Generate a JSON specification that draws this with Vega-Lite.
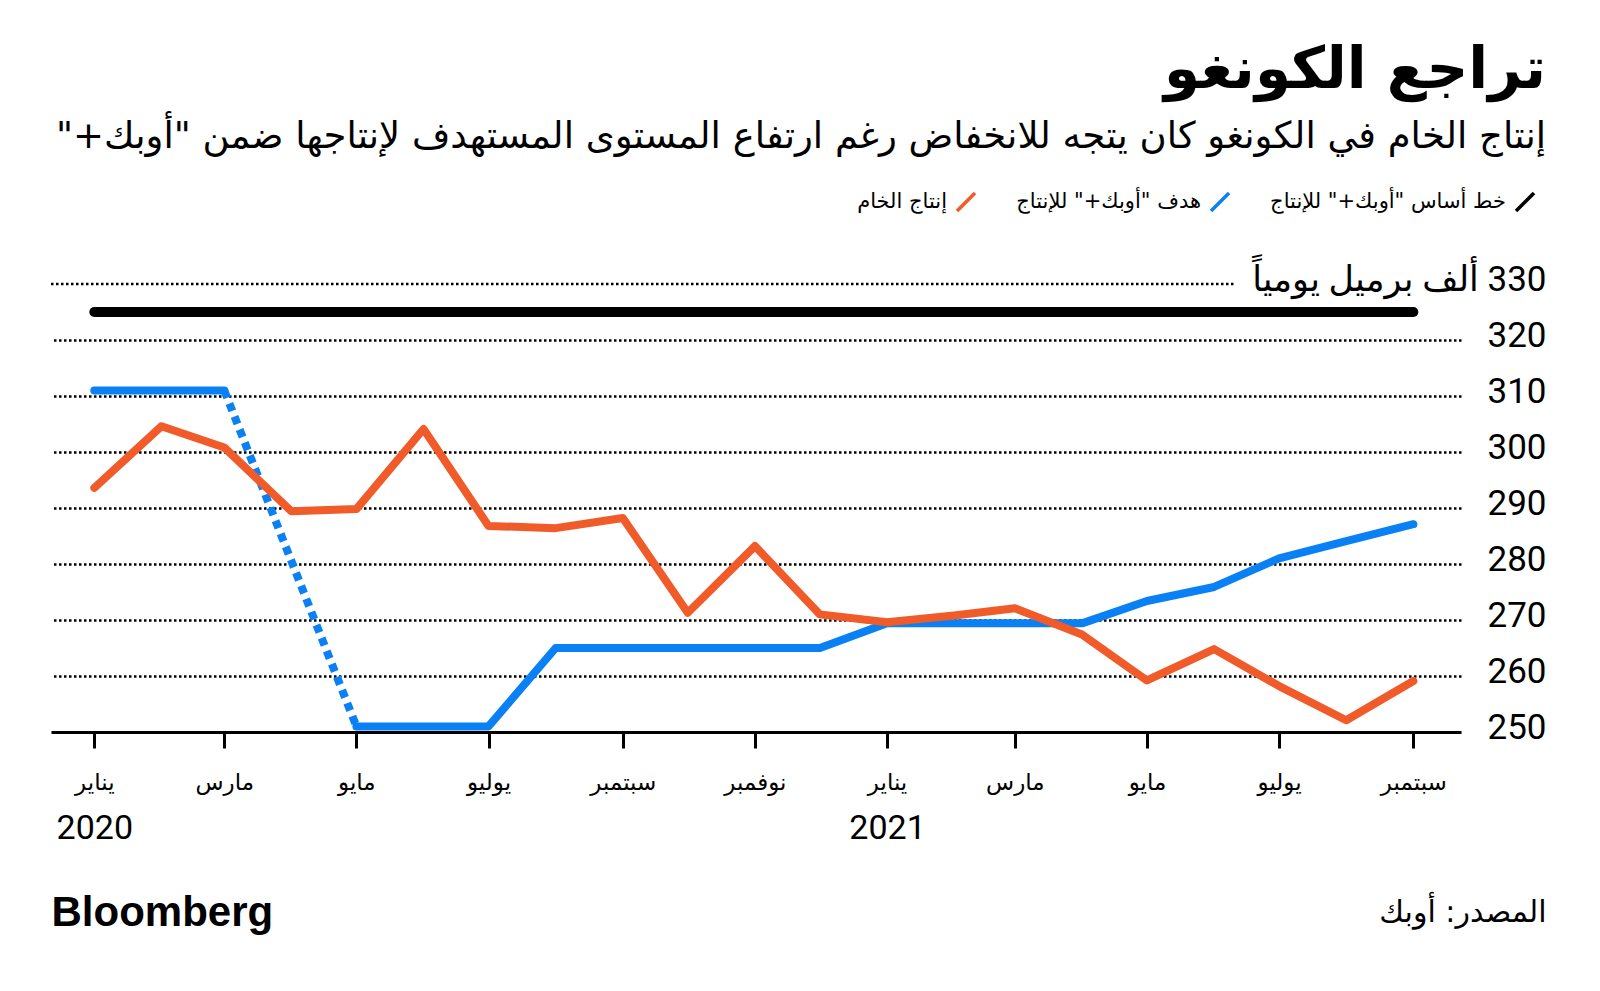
{
  "$schema": "https://vega.github.io/schema/vega-lite/v6.json",
  "width": 1410,
  "height": 448,
  "autosize": "none",
  "padding": {"left": 51, "top": 284, "right": 139, "bottom": 259},
  "background": "white",
  "config": {"view": {"stroke": null}},
  "title": {
    "text": "تراجع الكونغو",
    "subtitle": "إنتاج الخام في الكونغو كان يتجه للانخفاض رغم ارتفاع المستوى المستهدف لإنتاجها ضمن \"أوبك+\"‏",
    "anchor": "end",
    "frame": "bounds",
    "orient": "top",
    "font": "DejaVu Sans",
    "fontSize": 58,
    "fontWeight": "bold",
    "color": "black",
    "subtitleFont": "DejaVu Sans",
    "subtitleFontSize": 37,
    "subtitleColor": "black",
    "subtitlePadding": 19,
    "offset": 36
  },
  "data": {
    "values": [
      {"date": "2020-01-01T00:00", "series": "خط أساس \"أوبك+\" للإنتاج", "seg": "a", "value": 325},
      {"date": "2021-09-01T00:00", "series": "خط أساس \"أوبك+\" للإنتاج", "seg": "a", "value": 325},

      {"date": "2020-01-01T00:00", "series": "هدف \"أوبك+\" للإنتاج", "seg": "a", "value": 311},
      {"date": "2020-02-01T00:00", "series": "هدف \"أوبك+\" للإنتاج", "seg": "a", "value": 311},
      {"date": "2020-03-01T00:00", "series": "هدف \"أوبك+\" للإنتاج", "seg": "a", "value": 311},
      {"date": "2020-03-01T00:00", "series": "هدف \"أوبك+\" للإنتاج", "seg": "b", "value": 311},
      {"date": "2020-05-01T00:00", "series": "هدف \"أوبك+\" للإنتاج", "seg": "b", "value": 251},
      {"date": "2020-05-01T00:00", "series": "هدف \"أوبك+\" للإنتاج", "seg": "c", "value": 251},
      {"date": "2020-06-01T00:00", "series": "هدف \"أوبك+\" للإنتاج", "seg": "c", "value": 251},
      {"date": "2020-07-01T00:00", "series": "هدف \"أوبك+\" للإنتاج", "seg": "c", "value": 251},
      {"date": "2020-08-01T00:00", "series": "هدف \"أوبك+\" للإنتاج", "seg": "c", "value": 265},
      {"date": "2020-09-01T00:00", "series": "هدف \"أوبك+\" للإنتاج", "seg": "c", "value": 265},
      {"date": "2020-10-01T00:00", "series": "هدف \"أوبك+\" للإنتاج", "seg": "c", "value": 265},
      {"date": "2020-11-01T00:00", "series": "هدف \"أوبك+\" للإنتاج", "seg": "c", "value": 265},
      {"date": "2020-12-01T00:00", "series": "هدف \"أوبك+\" للإنتاج", "seg": "c", "value": 265},
      {"date": "2021-01-01T00:00", "series": "هدف \"أوبك+\" للإنتاج", "seg": "c", "value": 269.4},
      {"date": "2021-02-01T00:00", "series": "هدف \"أوبك+\" للإنتاج", "seg": "c", "value": 269.4},
      {"date": "2021-03-01T00:00", "series": "هدف \"أوبك+\" للإنتاج", "seg": "c", "value": 269.4},
      {"date": "2021-04-01T00:00", "series": "هدف \"أوبك+\" للإنتاج", "seg": "c", "value": 269.4},
      {"date": "2021-05-01T00:00", "series": "هدف \"أوبك+\" للإنتاج", "seg": "c", "value": 273.4},
      {"date": "2021-06-01T00:00", "series": "هدف \"أوبك+\" للإنتاج", "seg": "c", "value": 275.9},
      {"date": "2021-07-01T00:00", "series": "هدف \"أوبك+\" للإنتاج", "seg": "c", "value": 281.0},
      {"date": "2021-08-01T00:00", "series": "هدف \"أوبك+\" للإنتاج", "seg": "c", "value": 284.1},
      {"date": "2021-09-01T00:00", "series": "هدف \"أوبك+\" للإنتاج", "seg": "c", "value": 287.1},

      {"date": "2020-01-01T00:00", "series": "إنتاج الخام", "seg": "a", "value": 293.6},
      {"date": "2020-02-01T00:00", "series": "إنتاج الخام", "seg": "a", "value": 304.6},
      {"date": "2020-03-01T00:00", "series": "إنتاج الخام", "seg": "a", "value": 300.8},
      {"date": "2020-04-01T00:00", "series": "إنتاج الخام", "seg": "a", "value": 289.4},
      {"date": "2020-05-01T00:00", "series": "إنتاج الخام", "seg": "a", "value": 289.8},
      {"date": "2020-06-01T00:00", "series": "إنتاج الخام", "seg": "a", "value": 304.1},
      {"date": "2020-07-01T00:00", "series": "إنتاج الخام", "seg": "a", "value": 286.8},
      {"date": "2020-08-01T00:00", "series": "إنتاج الخام", "seg": "a", "value": 286.4},
      {"date": "2020-09-01T00:00", "series": "إنتاج الخام", "seg": "a", "value": 288.2},
      {"date": "2020-10-01T00:00", "series": "إنتاج الخام", "seg": "a", "value": 271.3},
      {"date": "2020-11-01T00:00", "series": "إنتاج الخام", "seg": "a", "value": 283.2},
      {"date": "2020-12-01T00:00", "series": "إنتاج الخام", "seg": "a", "value": 271.0},
      {"date": "2021-01-01T00:00", "series": "إنتاج الخام", "seg": "a", "value": 269.6},
      {"date": "2021-02-01T00:00", "series": "إنتاج الخام", "seg": "a", "value": 270.8},
      {"date": "2021-03-01T00:00", "series": "إنتاج الخام", "seg": "a", "value": 272.1},
      {"date": "2021-04-01T00:00", "series": "إنتاج الخام", "seg": "a", "value": 267.4},
      {"date": "2021-05-01T00:00", "series": "إنتاج الخام", "seg": "a", "value": 259.2},
      {"date": "2021-06-01T00:00", "series": "إنتاج الخام", "seg": "a", "value": 264.8},
      {"date": "2021-07-01T00:00", "series": "إنتاج الخام", "seg": "a", "value": 258.2},
      {"date": "2021-08-01T00:00", "series": "إنتاج الخام", "seg": "a", "value": 252.1},
      {"date": "2021-09-01T00:00", "series": "إنتاج الخام", "seg": "a", "value": 259.1}
    ]
  },
  "encoding": {
    "y": {
      "field": "value",
      "type": "quantitative",
      "scale": {"domain": [250, 330], "nice": false, "zero": false},
      "axis": {
        "orient": "right",
        "values": [250, 260, 270, 280, 290, 300, 310, 320, 330],
        "domain": false,
        "ticks": false,
        "grid": true,
        "gridColor": "black",
        "gridWidth": 2.5,
        "gridDash": [2.5, 2.5],
        "gridOpacity": {"condition": {"test": "datum.value == 250 || datum.value == 330", "value": 0}, "value": 1},
        "labelAlign": "right",
        "labelBaseline": "middle",
        "labelPadding": 85,
        "labelOffset": -5,
        "labelLimit": 500,
        "labelFont": "Roboto, DejaVu Sans",
        "labelFontSize": 35,
        "labelColor": "black",
        "labelExpr": "datum.value == 330 ? 'ألف برميل يومياً‎ 330' : datum.label",
        "title": null
      }
    },
    "color": {
      "field": "series",
      "type": "nominal",
      "scale": {
        "domain": ["إنتاج الخام", "هدف \"أوبك+\" للإنتاج", "خط أساس \"أوبك+\" للإنتاج"],
        "range": ["#f15a29", "#0a80f5", "#000000"]
      },
      "legend": {
        "orient": "none",
        "direction": "horizontal",
        "legendX": 904,
        "legendY": -93,
        "title": null,
        "symbolType": "M-1,1L1,-1",
        "symbolSize": 324,
        "symbolStrokeWidth": 3.5,
        "labelFont": "DejaVu Sans",
        "labelFontSize": 21,
        "labelColor": "black",
        "labelAlign": "right",
        "labelOffset": -30,
        "labelLimit": 500,
        "columnPadding": 34
      }
    }
  },
  "layer": [
    {
      "data": {"values": [{"value": 330}]},
      "mark": {"type": "rule", "color": "black", "strokeWidth": 2.5, "strokeDash": [2.5, 2.5]},
      "encoding": {
        "x": {"datum": {"year": 2019, "month": 12, "date": 12}, "type": "temporal", "axis": null,
              "scale": {"domain": [{"year": 2019, "month": 12, "date": 12}, {"year": 2021, "month": 9, "date": 23}]}},
        "x2": {"datum": {"year": 2021, "month": 6, "date": 11}},
        "color": {"value": "black"}
      }
    },
    {
      "transform": [{"filter": {"field": "series", "equal": "خط أساس \"أوبك+\" للإنتاج"}}],
      "mark": {"type": "line", "strokeWidth": 10, "strokeCap": "round"},
      "encoding": {
        "x": {
          "field": "date", "type": "temporal",
          "scale": {"domain": [{"year": 2019, "month": 12, "date": 12}, {"year": 2021, "month": 9, "date": 23}]},
          "axis": {
            "orient": "bottom",
            "values": [{"year": 2020, "month": 1, "date": 1}, {"year": 2021, "month": 1, "date": 1}],
            "labelExpr": "timeFormat(datum.value, '%Y')",
            "labelFont": "Roboto",
            "labelFontSize": 34,
            "labelColor": "black",
            "labelBaseline": "middle",
            "labelPadding": 96,
            "labelFlush": false,
            "labelOverlap": false,
            "ticks": false,
            "domain": false,
            "grid": false,
            "title": "Bloomberg",
            "titleX": 0,
            "titleY": 180,
            "titleAlign": "left",
            "titleAnchor": null,
            "titleBaseline": "middle",
            "titleFont": "Liberation Sans",
            "titleFontSize": 42,
            "titleFontWeight": "bold",
            "titleColor": "black"
          }
        }
      }
    },
    {
      "transform": [
        {"filter": {"field": "series", "equal": "هدف \"أوبك+\" للإنتاج"}},
        {"filter": {"field": "seg", "oneOf": ["a", "c"]}}
      ],
      "mark": {"type": "line", "strokeWidth": 8, "strokeCap": "round", "strokeJoin": "round"},
      "encoding": {
        "x": {
          "field": "date", "type": "temporal",
          "scale": {"domain": [{"year": 2019, "month": 12, "date": 12}, {"year": 2021, "month": 9, "date": 23}]},
          "axis": {
            "orient": "bottom",
            "values": [
              {"year": 2020, "month": 1, "date": 1}, {"year": 2020, "month": 3, "date": 1},
              {"year": 2020, "month": 5, "date": 1}, {"year": 2020, "month": 7, "date": 1},
              {"year": 2020, "month": 9, "date": 1}, {"year": 2020, "month": 11, "date": 1},
              {"year": 2021, "month": 1, "date": 1}, {"year": 2021, "month": 3, "date": 1},
              {"year": 2021, "month": 5, "date": 1}, {"year": 2021, "month": 7, "date": 1},
              {"year": 2021, "month": 9, "date": 1}
            ],
            "labelExpr": "['يناير','فبراير','مارس','أبريل','مايو','يونيو','يوليو','أغسطس','سبتمبر','أكتوبر','نوفمبر','ديسمبر'][month(datum.value)]",
            "labelFont": "DejaVu Sans",
            "labelFontSize": 23,
            "labelColor": "black",
            "labelBaseline": "middle",
            "labelPadding": 34,
            "labelFlush": false,
            "labelOverlap": false,
            "domainColor": "black",
            "domainWidth": 3,
            "tickColor": "black",
            "tickWidth": 3,
            "tickSize": 16,
            "grid": false,
            "title": "المصدر: أوبك",
            "titleX": 1495,
            "titleY": 180,
            "titleAlign": "right",
            "titleAnchor": null,
            "titleBaseline": "middle",
            "titleFont": "DejaVu Sans",
            "titleFontSize": 30,
            "titleFontWeight": "normal",
            "titleColor": "black"
          }
        },
        "detail": {"field": "seg"}
      }
    },
    {
      "transform": [
        {"filter": {"field": "series", "equal": "هدف \"أوبك+\" للإنتاج"}},
        {"filter": {"field": "seg", "equal": "b"}}
      ],
      "mark": {"type": "line", "strokeWidth": 8, "strokeCap": "butt", "strokeDash": [8, 6]},
      "encoding": {
        "x": {"field": "date", "type": "temporal", "axis": null,
              "scale": {"domain": [{"year": 2019, "month": 12, "date": 12}, {"year": 2021, "month": 9, "date": 23}]}}
      }
    },
    {
      "transform": [{"filter": {"field": "series", "equal": "إنتاج الخام"}}],
      "mark": {"type": "line", "strokeWidth": 8, "strokeCap": "round", "strokeJoin": "round"},
      "encoding": {
        "x": {"field": "date", "type": "temporal", "axis": null,
              "scale": {"domain": [{"year": 2019, "month": 12, "date": 12}, {"year": 2021, "month": 9, "date": 23}]}}
      }
    }
  ],
  "resolve": {"axis": {"x": "independent"}}
}
